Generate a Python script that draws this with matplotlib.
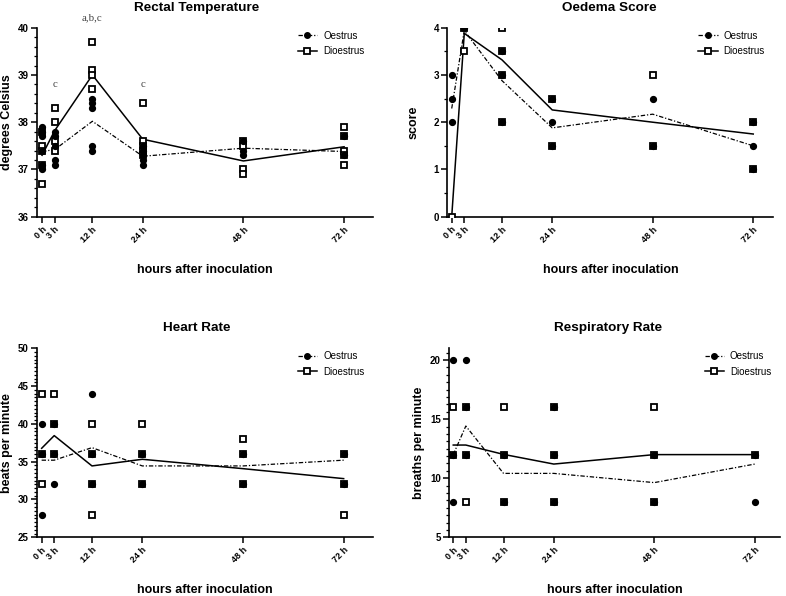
#!/usr/bin/env python3
# Clinical signs after inoculation: oestrus vs dioestrus, four panels.

import matplotlib.pyplot as plt
from matplotlib.lines import Line2D
from matplotlib.ticker import MultipleLocator

plt.rcParams['font.family'] = ['Liberation Sans', 'DejaVu Sans']

# Sampling times and their labels.

hours = [0, 3, 12, 24, 48, 72]
hour_labels = ['0 h', '3 h', '12 h', '24 h', '48 h', '72 h']

# Rectal temperature: single animals per time point and the group means.

temp_oes_pts = [[37.9, 37.8, 37.7, 37.4, 37.1, 37.0], [37.8, 37.7, 37.5, 37.2, 37.1],
                [38.5, 38.4, 38.3, 37.5, 37.4], [37.5, 37.4, 37.3, 37.2, 37.1],
                [37.6, 37.4, 37.3], [37.7, 37.3]]
temp_dio_pts = [[37.8, 37.5, 37.4, 37.1, 36.7], [38.3, 38.0, 37.6, 37.4],
                [39.7, 39.1, 39.0, 38.7], [38.4, 37.6, 37.5, 37.4, 37.3],
                [37.6, 37.5, 37.0, 36.9], [37.9, 37.7, 37.4, 37.3, 37.1]]
temp_oes_mean = [37.38, 37.42, 38.02, 37.28, 37.45, 37.38]
temp_dio_mean = [37.30, 37.82, 39.00, 37.64, 37.18, 37.48]
temp_marks = ['c', 'a,b,c', 'c']
temp_mark_hours = [3, 12, 24]
temp_mark_y = [38.8, 40.22, 38.8]

# Oedema score.

oed_oes_pts = [[3.0, 2.5, 2.0], [4.0], [3.5, 3.0, 2.0], [2.5, 2.0, 1.5], [2.5, 1.5], [2.0, 1.5, 1.0]]
oed_dio_pts = [[0.0], [4.0, 3.5], [4.0, 3.5, 3.0, 2.0], [2.5, 1.5], [3.0, 1.5], [2.0, 1.0]]
oed_oes_mean = [2.29, 3.94, 2.88, 1.88, 2.17, 1.50]
oed_dio_mean = [0.0, 3.88, 3.32, 2.26, 2.00, 1.75]

# Heart rate.

hr_oes_pts = [[40, 36, 28], [40, 36, 32], [44, 36, 32], [36, 32], [36, 32], [36, 32]]
hr_dio_pts = [[44, 36, 32], [44, 40, 36], [40, 36, 32, 28], [40, 36, 32], [38, 36, 32], [36, 32, 28]]
hr_oes_mean = [35.2, 35.2, 36.86, 34.44, 34.44, 35.2]
hr_dio_mean = [36.77, 38.45, 34.44, 35.32, 34.08, 32.76]

# Respiratory rate.

rr_oes_pts = [[20, 12, 8], [20, 16, 12], [12, 8], [16, 12, 8], [12, 8], [12, 8]]
rr_dio_pts = [[16, 12], [16, 12, 8], [16, 12, 8], [16, 12, 8], [16, 12, 8], [12]]
rr_oes_mean = [12.0, 14.42, 10.41, 10.41, 9.63, 11.2]
rr_dio_mean = [12.81, 12.81, 12.02, 11.2, 12.0, 12.0]

dashdot = (0, (3.5, 1.5, 1, 1.5))

fig = plt.figure(figsize=(7.86, 5.96), dpi=100)


def panel(rect, xlim, ylim, yticks, yminor, title, title_x, ylabel, ylabel_x,
          oes_pts, dio_pts, oes_mean, dio_mean):
    ax = fig.add_axes(rect)
    # open squares first, dots on top so overlaps read as filled squares
    for h, pts in zip(hours, dio_pts):
        ax.plot([h] * len(pts), pts, ls='none', marker='s', ms=5, mfc='white',
                mec='black', mew=1.3, zorder=3)
    for h, pts in zip(hours, oes_pts):
        ax.plot([h] * len(pts), pts, ls='none', marker='o', ms=4.2, color='black', zorder=4)
    ax.plot(hours, oes_mean, color='black', lw=0.9, ls=dashdot, zorder=2)
    ax.plot(hours, dio_mean, color='black', lw=1.1, ls='-', zorder=2)

    ax.set_xlim(*xlim)
    ax.set_ylim(*ylim)
    ax.set_xticks(hours)
    ax.set_xticklabels(hour_labels, rotation=45, ha='right', va='top',
                       rotation_mode='anchor', fontsize=6.5, fontweight='bold')
    ax.set_yticks(yticks)
    ax.set_yticklabels([str(t) for t in yticks], fontsize=7, fontweight='bold')
    ax.yaxis.set_minor_locator(MultipleLocator(yminor))
    ax.tick_params(axis='both', which='major', length=4, width=1.1, pad=2)
    ax.tick_params(axis='y', which='minor', length=2.2, width=0.9)
    for side in ['top', 'right']:
        ax.spines[side].set_visible(False)
    for side in ['left', 'bottom']:
        ax.spines[side].set_linewidth(1.2)

    ax.text(title_x, 1.106, title, transform=ax.transAxes, ha='center', va='center',
            fontsize=9.7, fontweight='bold')
    ax.set_xlabel('hours after inoculation', fontsize=9, fontweight='bold')
    ax.xaxis.set_label_coords(0.5, -0.248)
    ax.set_ylabel(ylabel, fontsize=9, fontweight='bold')
    ax.yaxis.set_label_coords(ylabel_x, 0.5)

    handles = [Line2D([], [], color='black', lw=0.9, ls=dashdot, marker='o', ms=4),
               Line2D([], [], color='black', lw=1.1, marker='s', ms=5, mfc='white', mew=1.3)]
    ax.legend(handles, ['Oestrus', 'Dioestrus'], loc='upper right', frameon=False,
              fontsize=7, handlelength=2.0, handletextpad=0.6, labelspacing=0.55,
              bbox_to_anchor=(1.0, 1.03))
    return ax


ax1 = panel([0.0471, 0.6364, 0.4275, 0.3171], (-1.2, 78.9), (36, 40), [36, 37, 38, 39, 40], 0.2,
            'Rectal Temperature', 0.476, 'degrees Celsius', -0.072,
            temp_oes_pts, temp_dio_pts, temp_oes_mean, temp_dio_mean)
for label, h, y in zip(temp_marks, temp_mark_hours, temp_mark_y):
    ax1.text(h, y, label, ha='center', va='center', fontsize=7.8, color='#444444',
             family=['Liberation Serif', 'DejaVu Serif'], clip_on=False)

panel([0.5691, 0.6364, 0.4148, 0.3171], (-1.05, 76.8), (0, 4), [0, 1, 2, 3, 4], 0.5,
      'Oedema Score', 0.497, 'score', -0.084,
      oed_oes_pts, oed_dio_pts, oed_oes_mean, oed_dio_mean)

panel([0.0471, 0.0985, 0.4275, 0.3171], (-1.1, 79.0), (25, 50), [25, 30, 35, 40, 45, 50], 0.5,
      'Heart Rate', 0.476, 'beats per minute', -0.072,
      hr_oes_pts, hr_dio_pts, hr_oes_mean, hr_dio_mean)

panel([0.5716, 0.0985, 0.4207, 0.3171], (-0.95, 78.0), (5, 21), [5, 10, 15, 20], 0.625,
      'Respiratory Rate', 0.481, 'breaths per minute', -0.073,
      rr_oes_pts, rr_dio_pts, rr_oes_mean, rr_dio_mean)

plt.savefig('out.png', dpi=100)
